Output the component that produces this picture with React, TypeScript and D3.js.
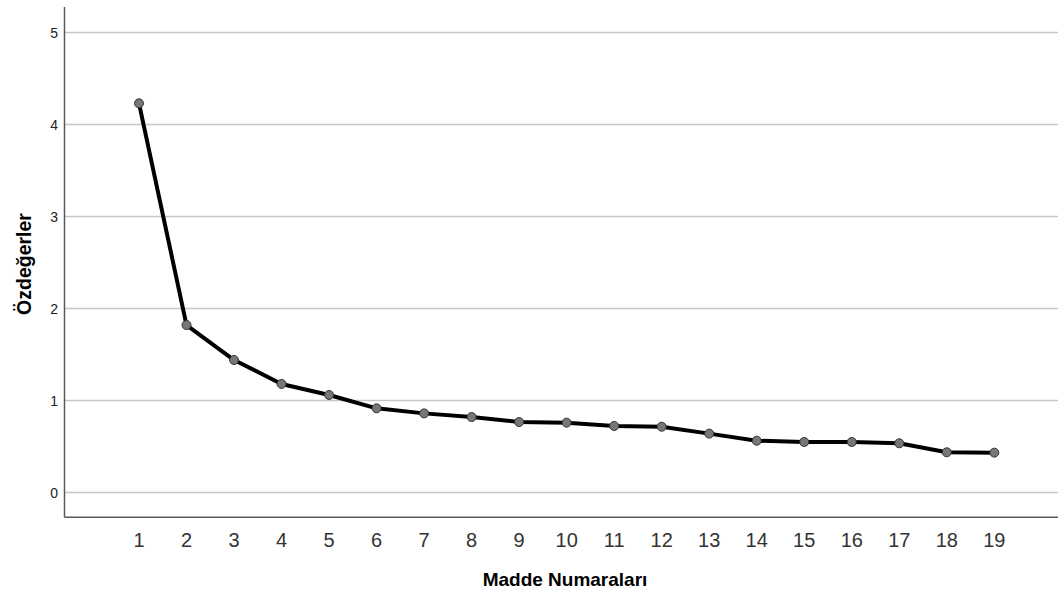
import React from 'react';
import * as d3 from 'd3';

// item numbers and eigenvalues (scree plot)
const items = [1, 2, 3, 4, 5, 6, 7, 8, 9, 10, 11, 12, 13, 14, 15, 16, 17, 18, 19];
const eigenvalues = [4.23, 1.82, 1.44, 1.18, 1.06, 0.915, 0.86, 0.82, 0.766, 0.759, 0.723, 0.715, 0.64, 0.563, 0.549, 0.549, 0.535, 0.437, 0.433];
const yTicks = [0, 1, 2, 3, 4, 5];
const xTitle = 'Madde Numaraları';
const yTitle = 'Özdeğerler';

const W = 1058;
const H = 592;
const font = '"Liberation Sans", Arial, sans-serif';

export default function App() {
  const left = 64.5;
  const right = 1058;
  const top = 7;
  const bottom = 517.3;

  const x = d3.scaleLinear().domain([1, 19]).range([139, 994.3]);
  const y = d3.scaleLinear().domain([0, 5]).range([492.5, 32.5]);

  const pts = items.map((d, i) => [x(d), y(eigenvalues[i])] as [number, number]);
  const line = d3.line()(pts) || '';

  return (
    <svg width={W} height={H} style={{ position: 'absolute', left: 0, top: 0, background: '#fff' }}>
      {/* grid */}
      {yTicks.map((t) => (
        <line key={'g' + t} x1={left} x2={right} y1={y(t)} y2={y(t)} stroke="#c8c8c8" strokeWidth={1.5} />
      ))}
      {/* axes */}
      <line x1={left} x2={left} y1={top} y2={bottom} stroke="#5a5a5a" strokeWidth={1.5} />
      <line x1={left} x2={right} y1={bottom} y2={bottom} stroke="#5a5a5a" strokeWidth={1.5} />

      {yTicks.map((t) => (
        <text key={'y' + t} x={58} y={y(t)} dy="0.36em" textAnchor="end" fontFamily={font} fontSize={14} fill="#222">
          {t}
        </text>
      ))}
      {items.map((d) => (
        <text key={'x' + d} x={x(d)} y={547} textAnchor="middle" fontFamily={font} fontSize={20} fill="#333">
          {d}
        </text>
      ))}

      <text x={565} y={586} textAnchor="middle" fontFamily={font} fontSize={19} fontWeight="bold" fill="#000">
        {xTitle}
      </text>
      <text transform="translate(31,264) rotate(-90)" textAnchor="middle" fontFamily={font} fontSize={19.5} fontWeight="bold" fill="#000">
        {yTitle}
      </text>

      <path d={line} fill="none" stroke="#000" strokeWidth={4} strokeLinejoin="round" />
      {pts.map((p, i) => (
        <circle key={'p' + i} cx={p[0]} cy={p[1]} r={4.5} fill="#777" stroke="#333" strokeWidth={1} />
      ))}
    </svg>
  );
}
